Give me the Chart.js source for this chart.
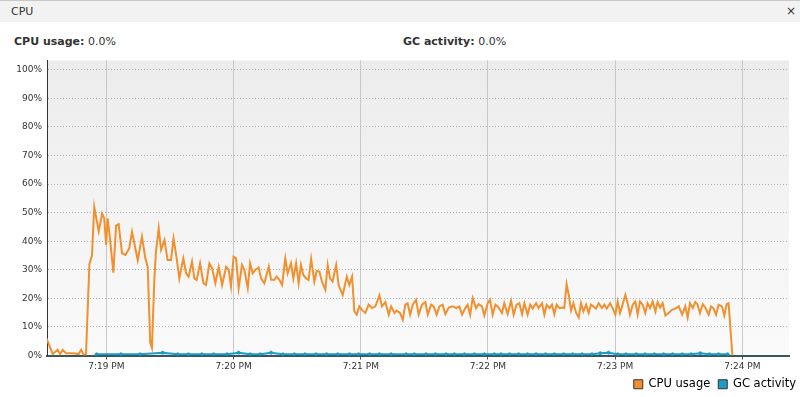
<!DOCTYPE html>
<html>
<head>
<meta charset="UTF-8">
<title>CPU</title>
<script src="https://cdn.jsdelivr.net/npm/chart.js"></script>
<style>
  html, body { margin: 0; padding: 0; background: #fff; }
  body { width: 800px; height: 397px; position: relative; overflow: hidden; font-family: "DejaVu Sans", sans-serif; color: #333; }
  .titlebar { position: absolute; left: 0; top: 0; width: 800px; height: 22px; background: #f2f2f2; border-top: 1px solid #c8c8c8; box-sizing: border-box; }
  .titlebar .name { position: absolute; left: 11px; top: 4px; font-size: 11px; }
  .titlebar .close { position: absolute; right: 4px; top: 3px; font-size: 12px; }
  .stat { position: absolute; top: 35px; font-size: 11px; }
  .stat b { font-weight: bold; }
  .box { position: absolute; left: 0; top: 50px; width: 800px; height: 347px; }
</style>
</head>
<body>
  <div class="titlebar"><span class="name">CPU</span><span class="close">×</span></div>
  <div class="stat" style="left:14px"><b>CPU usage:</b> 0.0%</div>
  <div class="stat" style="left:403px"><b>GC activity:</b> 0.0%</div>
  <div class="box"><canvas id="cpuChart" width="800" height="347"></canvas></div>

<script>
  // tempo em segundos depois de 7:18:00 PM
  var cpuTime = [31.8, 34.7, 37.0, 38.2, 39.4, 41.0, 44.1, 46.9, 48.1, 49.3, 50.4, 52.0, 53.2, 54.3, 56.4, 58.0, 59.0, 59.9, 60.6, 61.7,
    63.3, 64.6, 65.8, 67.4, 69.0, 70.8, 72.1, 74.8, 76.8, 78.4, 79.5, 80.7, 81.5, 82.6, 83.4, 84.7, 85.8, 87.4, 88.9, 90.5,
    91.7, 93.2, 94.4, 96.3, 97.6, 98.8, 100.4, 101.5, 102.6, 104.2, 105.8, 107.0, 108.6, 109.9, 111.4, 113.0, 114.6, 116.5, 117.7, 118.8,
    120.0, 121.2, 122.4, 124.0, 125.1, 126.7, 127.8, 129.0, 130.3, 131.8, 133.0, 134.5, 136.6, 137.7, 139.2, 140.3, 141.6, 142.9, 144.4, 145.5,
    147.1, 148.2, 149.5, 150.7, 151.8, 152.9, 154.2, 155.4, 156.6, 158.1, 159.2, 160.5, 161.7, 163.3, 164.4, 165.5, 166.7, 168.4, 169.6,
    171.5, 173.4, 174.6, 175.9, 177.0, 178.1, 179.3, 180.9, 182.2, 183.7, 185.3, 186.9, 188.8, 190.0, 191.6, 193.2, 194.3, 195.9, 196.9, 198.5,
    199.8, 201.0, 202.1, 203.3, 204.5, 206.1, 207.3, 208.9, 210.5, 211.6, 213.2, 214.4, 215.8, 217.1, 218.6, 219.9, 221.5, 223.4, 225.0, 226.5,
    227.8, 229.3, 230.4, 231.6, 232.8, 234.4, 235.6, 237.2, 238.3, 239.9, 241.0, 242.2, 243.5, 245.0, 246.6, 247.7, 249.3, 250.9, 252.1, 253.5,
    254.8, 256.1, 257.2, 258.7, 259.9, 261.1, 262.7, 263.9,
    265.5, 266.6, 267.7, 269.0, 270.2, 271.3, 272.4, 273.7, 275.0, 276.0, 277.1, 278.1, 279.2, 280.3, 281.6, 282.8, 283.9, 285.0, 286.3, 287.5,
    288.6, 289.7, 291.0, 292.2, 293.8, 294.9, 296.0, 297.6, 298.8, 300.1, 301.2, 302.3, 303.5, 304.8, 305.9, 307.0, 308.3, 309.5, 310.6, 311.7,
    313.0, 314.2, 315.3, 316.5, 317.7, 319.0, 320.0, 321.2, 322.4, 323.7, 325.2, 326.8, 328.4, 330.0, 331.6, 333.1, 334.2, 335.3, 336.6, 337.8,
    338.9, 340.0, 341.3, 342.5, 344.1, 345.2, 346.3, 347.6, 348.8, 350.4, 351.5, 352.6, 353.5, 355.3];
  var cpuUsage = [5.9, 0.5, 2, 0.5, 2, 0.8, 0.8, 0.5, 2, 0.3, 0.3, 32, 35, 52, 43.5, 49.7, 48, 38.7, 48, 41,
    29, 45.5, 46, 35.8, 35.2, 37.5, 43.3, 33.4, 41.6, 34, 31, 4.5, 2.7, 26, 36.4, 44.5, 37, 40.4, 33.4, 33.4,
    41, 33.8, 27, 34, 28.8, 27.6, 32.9, 27, 26.4, 32.3, 25.3, 24.7, 32.3, 30.5, 25.3, 31, 24.7, 31, 30, 24.2,
    34.6, 34, 23.6, 31.7, 30, 23.6, 32.3, 28.8, 30, 30.8, 27, 25.3, 31.1, 26.5, 26.5, 27.6, 26.5, 24.7, 34, 28.8,
    32.3, 27, 32.3, 25.3, 31.7, 28.2, 27, 26.5, 33.8, 25.9, 29.6, 29.4, 25.9, 23, 31.7, 27, 25.9, 31.7, 24.5,
    21.2, 27.6, 24.7, 27.6, 15.4, 14.3, 17.2, 15.7, 14.9, 17.8, 16.6, 17.2, 21, 17.2, 18.7, 14.3, 17.2, 14.9, 15.7, 14.9,
    12.5, 17.8, 18.3, 14.3, 17.8, 19.5, 14.3, 17.8, 18.7, 14.3, 17.8, 17.2, 14.3, 17.2, 17.8, 14.5, 16.8, 17.2, 16.6, 17.2,
    14.3, 16.6, 17.8, 14.3, 20.1, 16.6, 18, 17.2, 14, 18.3, 19.5, 14.3, 17.8, 16.8, 14.9, 18.3, 14.5, 19.2, 14.3, 17.8,
    18.3, 14.5, 18.3, 14.3, 17.8, 16.4, 18.3, 16.6,
    18.3, 14.3, 17.8, 16.6, 17.8, 14.5, 17.8, 16.6, 16.8, 16.6, 25, 21.2, 15.7, 18.3, 14.9, 13.3, 18.3, 15.4, 17.8, 14.9,
    17.8, 17.2, 16.4, 18.3, 16.6, 17.8, 16.4, 18.3, 16.6, 14.3, 18.9, 14.9, 17.8, 21.2, 18.3, 14.3, 17.8, 18.9, 14.3, 18.9,
    17.8, 14.9, 18.3, 16.6, 18.9, 15.4, 18.7, 16.8, 18.3, 14, 14.9, 16, 16.4, 17.2, 14.3, 17.2, 13.3, 18.3, 16.6, 18.7,
    17.8, 14.9, 18, 16.8, 14.3, 17.2, 16.6, 14.3, 17.8, 17.2, 14, 18, 18.3, 0];

  var gcTime = [55.4, 66.9, 75.9, 86.6, 93.6, 98.7, 105.0, 110.6, 116.9, 122.4, 127.8, 132.6, 137.7, 143.2, 148.7, 153.7, 158.9, 163.9, 169.1, 174.6,
    179.0, 184.1, 188.8, 194.3, 201.4, 205.3, 210.8, 215.2, 220.2, 224.2, 228.9, 233.6, 238.3, 243.0, 246.2, 250.1, 254.5, 258.7, 262.7, 267.1,
    271.3, 275.7, 280.0, 284.4, 289.1, 293.0, 296.9, 301.2, 305.1, 309.9, 314.1, 318.5, 322.9, 327.1, 331.6, 335.8, 340.2, 344.4, 348.8, 353.1];
  var gcActivity = [0.4, 0.4, 0.4, 1, 0.4, 0.4, 0.4, 0.4, 0.4, 1, 0.4, 0.4, 1, 0.4, 0.4, 0.4, 0.4, 0.4, 0.4, 0.4,
    0.4, 0.4, 0.4, 0.4, 0.4, 0.4, 0.4, 0.4, 0.4, 0.4, 0.4, 0.4, 0.4, 0.4, 0.4, 0.4, 0.4, 0.4, 0.4, 0.4,
    0.4, 0.4, 0.4, 0.4, 0.4, 0.8, 1, 0.4, 0.4, 0.4, 0.4, 0.4, 0.4, 0.4, 0.4, 0.4, 0.8, 0.4, 0.4, 0.4];

  var minuteTicks = [60, 120, 180, 240, 300, 360];
  var percentTicks = [0, 10, 20, 30, 40, 50, 60, 70, 80, 90, 100];

  function toPoints(xs, ys) {
    return xs.map(function (x, i) { return { x: x, y: ys[i] }; });
  }

  function timeLabel(sec) {
    var min = 18 + Math.round(sec / 60);
    return '7:' + (min < 10 ? '0' + min : min) + ' PM';
  }

  // fundo cinza em degradê só na área do gráfico
  var plotBackground = {
    id: 'plotBackground',
    beforeDraw: function (chart) {
      var a = chart.chartArea, ctx = chart.ctx;
      var g = ctx.createLinearGradient(0, a.top, 0, a.bottom);
      g.addColorStop(0, '#ececec');
      g.addColorStop(1, '#fafafa');
      ctx.save();
      ctx.fillStyle = g;
      ctx.fillRect(a.left, a.top, a.right - a.left, a.bottom - a.top);
      ctx.restore();
    }
  };

  // ajusta a posição da legenda (canto inferior direito)
  var legendShift = {
    id: 'legendShift',
    afterLayout: function (chart) {
      var lg = chart.legend;
      lg.left += 15;
      lg.right += 15;
      lg.top -= 5;
      lg.bottom -= 5;
    }
  };

  Chart.defaults.font.family = '"DejaVu Sans", sans-serif';
  Chart.defaults.color = '#333';

  var ctx = document.getElementById('cpuChart').getContext('2d');
  var chart = new Chart(ctx, {
    type: 'line',
    data: {
      datasets: [
        {
          label: 'CPU usage',
          data: toPoints(cpuTime, cpuUsage),
          borderColor: '#f0902e',
          backgroundColor: '#f0902e',
          borderWidth: 2,
          pointRadius: 0,
          tension: 0
        },
        {
          label: 'GC activity',
          data: toPoints(gcTime, gcActivity),
          borderColor: '#1e9bc9',
          backgroundColor: '#1e9bc9',
          borderWidth: 2,
          pointRadius: 1.5,
          pointBorderWidth: 1,
          tension: 0
        }
      ]
    },
    options: {
      responsive: false,
      animation: false,
      layout: { padding: { top: 7, right: 11, bottom: -8, left: 0 } },
      scales: {
        x: {
          type: 'linear',
          min: 32,
          max: 382,
          afterBuildTicks: function (scale) {
            scale.ticks = minuteTicks.map(function (v) { return { value: v }; });
          },
          afterFit: function (scale) { scale.height = 20; },
          ticks: {
            callback: function (v) { return timeLabel(v); },
            font: { size: 9 },
            color: '#333',
            maxRotation: 0,
            autoSkip: false,
            padding: 2
          },
          grid: { color: '#c8c8c8', lineWidth: 1, tickLength: 4, tickColor: '#555' },
          border: { color: '#34585c', width: 2 }
        },
        y: {
          min: 0,
          max: 103.3,
          afterBuildTicks: function (scale) {
            scale.ticks = percentTicks.map(function (v) { return { value: v }; });
          },
          afterFit: function (scale) { scale.width = 47; },
          ticks: {
            callback: function (v) { return v + '%'; },
            font: { size: 9 },
            color: '#333',
            autoSkip: false,
            padding: 5
          },
          grid: { color: '#b4b4b4', lineWidth: 1, drawTicks: false },
          // no Chart.js v4 o dash das linhas de grade fica em border.dash
          border: { color: '#333', width: 1, dash: [1, 2] }
        }
      },
      plugins: {
        legend: {
          position: 'bottom',
          align: 'end',
          labels: {
            boxWidth: 9,
            boxHeight: 9,
            padding: 8,
            font: { size: 11.5 },
            color: '#222',
            generateLabels: function (chart) {
              return chart.data.datasets.map(function (ds, i) {
                return {
                  text: ds.label,
                  fillStyle: ds.borderColor,
                  strokeStyle: '#333',
                  lineWidth: 1,
                  datasetIndex: i
                };
              });
            }
          }
        },
        tooltip: { enabled: false }
      }
    },
    plugins: [plotBackground, legendShift]
  });
</script>
</body>
</html>
